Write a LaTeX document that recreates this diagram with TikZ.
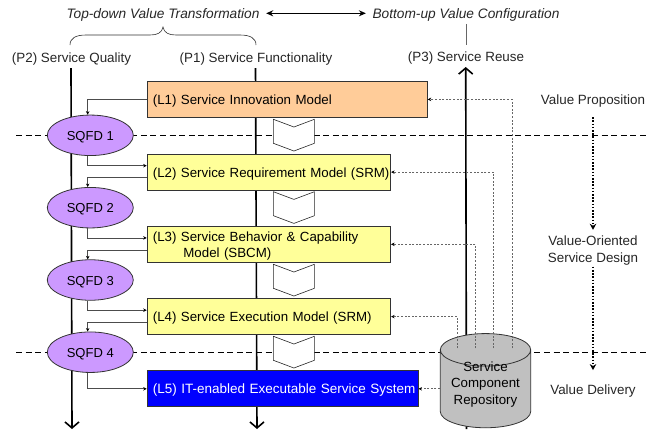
\documentclass[tikz,border=0pt]{standalone}
\usepackage{fontspec}
\setmainfont{Liberation Sans}
\usetikzlibrary{positioning, shapes, arrows.meta, calc}

\definecolor{l1orange}{HTML}{FFCC99}
\definecolor{l2yellow}{HTML}{FFFF99}
\definecolor{sqfdpurple}{HTML}{CC99FF}
\definecolor{repogray}{HTML}{C0C0C0}

\tikzset{
  model/.style={draw=black!80, line width=0.8pt, rectangle, fill=l2yellow, minimum height=36pt, inner xsep=0pt, inner ysep=0pt, text width=#1, minimum width=#1, text height=10pt, text depth=0pt, align=left, anchor=north west, font=\fontsize{13.3}{15.6}\selectfont},
  sqfd/.style={draw=black!80, line width=0.8pt, ellipse, fill=sqfdpurple, minimum width=86pt, minimum height=40.5pt, inner sep=0pt, text height=10pt, text depth=0pt, font=\fontsize{13}{16}\selectfont},
  tag/.style={font=\fontsize{13.4}{17.4}\selectfont, align=center, inner sep=0pt, text height=10pt, text depth=0pt, text=black!85},
  pillar/.style={line width=1.6pt, -{Straight Barb[length=6pt,width=14pt,line width=1.6pt]}},
  divider/.style={dash pattern=on 6pt off 3.6pt, line width=0.7pt},
  link/.style={black!70, line width=0.8pt, -{Stealth[black,length=3.5pt,width=3.5pt]}},
  reuse/.style={black!60, line width=0.8pt, dash pattern=on 2pt off 1.6pt, -{Stealth[black,length=3.5pt,width=3.5pt]}},
  stage/.style={draw=black!85, line width=0.6pt, fill=white},
  flow/.style={line width=1.4pt, dash pattern=on 1.6pt off 1.6pt, -{Stealth[length=6pt,width=6.5pt]}},
}

\begin{document}
\begin{tikzpicture}[x=1pt, y=-1pt]
  \useasboundingbox (0,0) rectangle (646,429);
  % headings
  \node[tag, font=\fontsize{13.7}{16}\itshape] (topdown) at (163,13.3) {Top-down Value Transformation};
  \node[tag, font=\fontsize{13.7}{16}\itshape] (bottomup) at (466,13.3) {Bottom-up Value Configuration};
  \node[tag] (p2) at (71.5,57.3) {(P2) Service Quality};
  \node[tag] (p1) at (256,57.3) {(P1) Service Functionality};
  \node[tag] (p3) at (466,56) {(P3) Service Reuse};
  \node[tag] (vprop) at (593,99) {Value Proposition};
  \node[tag, text height=27pt] (vdesign) at (593,249) {Value-Oriented\\Service Design};
  \node[tag] (vdeliv) at (593,389.3) {Value Delivery};

  % free ends
  \coordinate (p2top) at (71,68);
  \coordinate (p1top) at (255.5,68);
  \coordinate (p2end) at (72,429);
  \coordinate (p1end) at (257,429);
  \coordinate (p3end) at (466.5,429);
  \coordinate (p3top) at (465.7,67);
  \coordinate (lineA) at (16,135.3);
  \coordinate (lineAr) at (646,135.3);
  \coordinate (lineB) at (16,352);
  \coordinate (lineBr) at (646,352);

  \draw[divider] (lineA) -- (lineAr);
  \draw[divider] (lineB) -- (lineBr);
  \draw[pillar] (p2top) -- (p2end);
  \draw[pillar] (p1top) -- (p1end);
  \draw[pillar] (p3end) -- (p3top);

  % levels
  \node[model=280.2pt, fill=l1orange] (L1) at (146.7,81) {\hspace*{5.8pt}(L1) Service Innovation Model};
  \node[model=243.6pt] (L2) at (146.7,153.7) {\hspace*{5.8pt}(L2) Service Requirement Model (SRM)};
  \node[model=243.6pt, text depth=15.2pt] (L3) at (146.7,225.9) {\hspace*{5.8pt}(L3) Service Behavior \& Capability\\\hspace*{36.3pt}Model (SBCM)};
  \node[model=243.6pt] (L4) at (146.7,298.2) {\hspace*{5.8pt}(L4) Service Execution Model (SRM)};
  \node[model=271pt, fill=blue, text=white, font=\fontsize{13.5}{15.6}\selectfont] (L5) at (146.7,370.4) {\hspace*{5.8pt}(L5) IT-enabled Executable Service System};

  \node[sqfd] (Q1) at (90.3,135.3) {SQFD 1};
  \node[sqfd] (Q2) at (90.3,207.7) {SQFD 2};
  \node[sqfd] (Q3) at (90.3,280) {SQFD 3};
  \node[sqfd] (Q4) at (90.3,352.2) {SQFD 4};

  \node[cylinder, shape border rotate=90, aspect=0.473, draw=black!80, line width=0.8pt, fill=repogray, minimum height=86pt, minimum width=90.4pt, inner sep=0pt, align=center, text height=37.5pt, text depth=7.5pt, font=\fontsize{13.3}{16.3}\selectfont] (repo) at (485.5,389) {Service\\Component\\Repository};

  % stage arrows
  \foreach \y in {119.3, 191.7, 264.3, 336.3} {
    \draw[stage] (273.4,\y) -- ++(20.5,7.7) -- ++(20.5,-7.7) -- ++(0,24) -- ++(-20.5,7.7) -- ++(-20.5,-7.7) -- cycle;
  }

  % links on the left
  \draw[link] (L1.west) -| ([xshift=-2.6pt]Q1.north);
  \draw[link] ([xshift=-2.6pt]Q1.south) |- ([yshift=6.4pt]L2.west);
  \draw[link] ([yshift=-5.6pt]L2.west) -| ([xshift=-2.6pt]Q2.north);
  \draw[link] ([xshift=-2.6pt]Q2.south) |- ([yshift=6.4pt]L3.west);
  \draw[link] ([yshift=-5.6pt]L3.west) -| ([xshift=-2.6pt]Q3.north);
  \draw[link] ([xshift=-2.6pt]Q3.south) |- ([yshift=6.4pt]L4.west);
  \draw[link] ([yshift=-5.6pt]L4.west) -| ([xshift=-2.6pt]Q4.north);
  \draw[link] ([xshift=-2.6pt]Q4.south) |- (L5.west);

  % links from the repository
  \coordinate (r1) at (512,348.3);
  \coordinate (r2) at (493.7,348.3);
  \coordinate (r3) at (475.7,348.3);
  \coordinate (r4) at (457.7,348.3);
  \draw[reuse] (r1) |- (L1.east);
  \draw[reuse] (r2) |- (L2.east);
  \draw[reuse] (r3) |- (L3.east);
  \draw[reuse] (r4) |- (L4.east);
  \draw[reuse] (repo.west |- L5.west) -- (L5.east);

  % brace and bars
  \coordinate (braceL) at (70,45);
  \coordinate (braceR) at (256,45);
  \coordinate (braceM) at (163,27);
  \draw[black!80, line width=0.6pt] (braceL) .. controls (70,38) and (76,35) .. (86,35) -- (150,35) .. controls (157,35) and (162,33) .. (braceM) .. controls (164,33) and (169,35) .. (176,35) -- (240,35) .. controls (250,35) and (256,38) .. (braceR);
  \draw[black!60, line width=0.7pt] ([yshift=-5.3pt]bottomup.south -| p3) -- ([yshift=6pt]p3.north);
  \draw[{Stealth[length=7pt,width=6pt]}-{Stealth[length=7pt,width=6pt]}, line width=1.3pt] ([xshift=6.5pt]topdown.east) -- ([xshift=-6.5pt]bottomup.west);

  % value flow
  \draw[flow] ([yshift=-13pt]vprop.south) -- ([yshift=5.5pt]vdesign.north);
  \draw[flow] ([yshift=-4pt]vdesign.south) -- ([yshift=14pt]vdeliv.north);
\end{tikzpicture}
\end{document}
